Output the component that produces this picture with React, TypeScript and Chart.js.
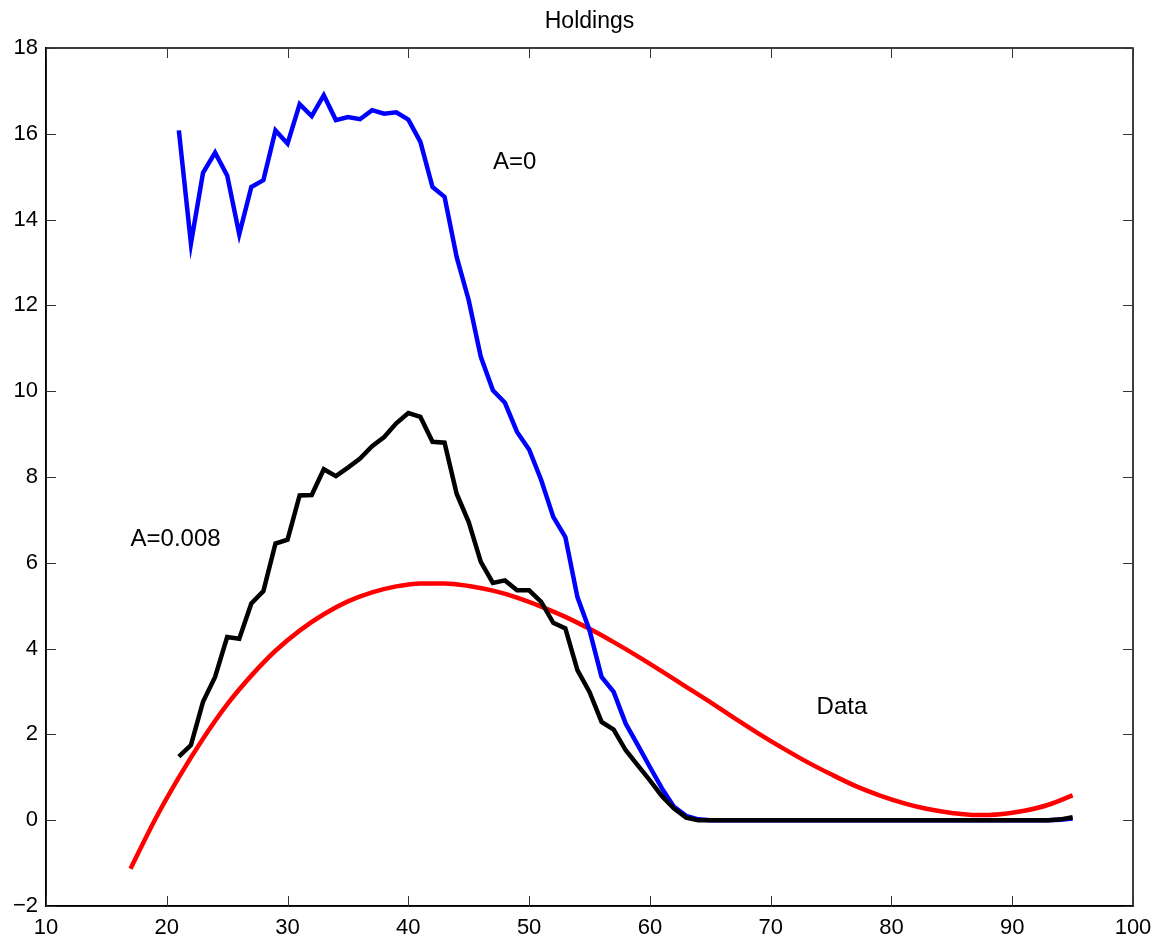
import React, { useEffect, useRef } from "react";
import { Chart, registerables } from "chart.js";

Chart.register(...registerables);

const ages = [21, 22, 23, 24, 25, 26, 27, 28, 29, 30, 31, 32, 33, 34, 35, 36, 37, 38, 39, 40,
  41, 42, 43, 44, 45, 46, 47, 48, 49, 50, 51, 52, 53, 54, 55, 56, 57, 58, 59, 60,
  61, 62, 63, 64, 65, 66, 67, 68, 69, 70, 71, 72, 73, 74, 75, 76, 77, 78, 79, 80,
  81, 82, 83, 84, 85, 86, 87, 88, 89, 90, 91, 92, 93, 94, 95];

const holdingsA0 = [16.08, 13.44, 15.09, 15.56, 15.03, 13.66, 14.76, 14.92, 16.08, 15.77,
  16.69, 16.41, 16.9, 16.32, 16.39, 16.34, 16.55, 16.47, 16.5, 16.33,
  15.81, 14.76, 14.53, 13.13, 12.12, 10.8, 10.02, 9.73, 9.05, 8.64,
  7.93, 7.07, 6.6, 5.2, 4.43, 3.34, 2.99, 2.25, 1.75, 1.24,
  0.74, 0.31, 0.1, 0.02, 0, 0, 0, 0, 0, 0,
  0, 0, 0, 0, 0, 0, 0, 0, 0, 0,
  0, 0, 0, 0, 0, 0, 0, 0, 0, 0,
  0, 0, 0, 0.01, 0.04];

const holdingsA008 = [1.48, 1.75, 2.76, 3.34, 4.27, 4.23, 5.05, 5.34, 6.45, 6.54,
  7.57, 7.58, 8.18, 8.02, 8.22, 8.43, 8.72, 8.93, 9.25, 9.49,
  9.4, 8.82, 8.8, 7.61, 6.95, 6.02, 5.53, 5.59, 5.36, 5.36,
  5.09, 4.6, 4.47, 3.5, 2.99, 2.29, 2.11, 1.63, 1.28, 0.93,
  0.56, 0.27, 0.06, 0, 0, 0, 0, 0, 0, 0,
  0, 0, 0, 0, 0, 0, 0, 0, 0, 0,
  0, 0, 0, 0, 0, 0, 0, 0, 0, 0,
  0, 0, 0, 0.02, 0.07];

const dataAges = [17, 19, 21, 23, 25, 27, 29, 31, 33, 35, 37, 39, 41, 43, 45, 47, 49, 51, 53, 55,
  57, 59, 61, 63, 65, 67, 69, 71, 73, 75, 77, 79, 81, 83, 85, 87, 89, 91, 93, 95];
const dataHoldings = [-1.13, 0.0, 1.0, 1.9, 2.7, 3.37, 3.95, 4.42, 4.8, 5.1, 5.31, 5.45, 5.52, 5.52,
  5.46, 5.35, 5.19, 4.98, 4.74, 4.46, 4.15, 3.82, 3.47, 3.11, 2.75, 2.38, 2.02, 1.68, 1.36, 1.07,
  0.8, 0.58, 0.4, 0.26, 0.17, 0.12, 0.14, 0.22, 0.36, 0.58];

const xTickValues = [10, 20, 30, 40, 50, 60, 70, 80, 90, 100];
const yTickValues = [-2, 0, 2, 4, 6, 8, 10, 12, 14, 16, 18];

const titleText = "Holdings";
const labelTexts = ["A=0", "A=0.008", "Data"];
const labelX = [47, 17, 73.8];
const labelY = [15.34, 6.55, 2.63];

const FONT = '"Liberation Sans", Arial, Helvetica, sans-serif';

const toPoints = (xs: number[], ys: number[]) => xs.map((x, i) => ({ x, y: ys[i] }));
const fmt = (v: number) => (v < 0 ? "\u2212" + Math.abs(v) : String(v));

const framePlugin = {
  id: "matlabFrame",
  afterDraw(chart: any) {
    const { ctx, chartArea, scales } = chart;
    const { left, right, top, bottom } = chartArea;
    const xs = scales.x;
    const ys = scales.y;
    ctx.save();
    ctx.strokeStyle = "#000";
    ctx.lineWidth = 1.5;
    ctx.beginPath();
    ctx.rect(left, top, right - left, bottom - top);
    ctx.stroke();
    ctx.strokeStyle = "#333";
    ctx.lineWidth = 1;
    const tl = 10;
    ctx.beginPath();
    xTickValues.forEach((v) => {
      const px = Math.round(xs.getPixelForValue(v)) + 0.5;
      ctx.moveTo(px, bottom);
      ctx.lineTo(px, bottom - tl);
      ctx.moveTo(px, top);
      ctx.lineTo(px, top + tl);
    });
    yTickValues.forEach((v) => {
      const py = Math.round(ys.getPixelForValue(v)) + 0.5;
      ctx.moveTo(left, py);
      ctx.lineTo(left + tl, py);
      ctx.moveTo(right, py);
      ctx.lineTo(right - tl, py);
    });
    ctx.stroke();
    ctx.fillStyle = "#000";
    ctx.font = `23px ${FONT}`;
    ctx.textAlign = "center";
    ctx.textBaseline = "middle";
    ctx.fillText(titleText, (left + right) / 2, 22);
    ctx.font = `24px ${FONT}`;
    ctx.textAlign = "left";
    labelTexts.forEach((t, i) => {
      ctx.fillText(t, xs.getPixelForValue(labelX[i]), ys.getPixelForValue(labelY[i]));
    });
    ctx.restore();
  },
};

export default function App() {
  const ref = useRef<HTMLCanvasElement | null>(null);
  useEffect(() => {
    if (!ref.current) return;
    const chart = new Chart(ref.current, {
      type: "line",
      data: {
        datasets: [
          {
            label: "A=0.008",
            data: toPoints(ages, holdingsA008),
            borderColor: "#000000",
            borderWidth: 4.5,
            pointRadius: 0,
            fill: false,
          },
          {
            label: "A=0",
            data: toPoints(ages, holdingsA0),
            borderColor: "#0000ff",
            borderWidth: 4.5,
            pointRadius: 0,
            fill: false,
          },
          {
            label: "Data",
            data: toPoints(dataAges, dataHoldings),
            borderColor: "#ff0000",
            borderWidth: 4.5,
            pointRadius: 0,
            fill: false,
            cubicInterpolationMode: "monotone",
          },
        ],
      },
      options: {
        animation: false,
        responsive: false,
        devicePixelRatio: 1,
        layout: { padding: { top: 48, right: 35, left: 0, bottom: 0 } },
        plugins: {
          legend: { display: false },
          title: { display: false },
          tooltip: { enabled: false },
        },
        scales: {
          x: {
            type: "linear",
            min: 10,
            max: 100,
            afterBuildTicks: (s: any) => {
              s.ticks = xTickValues.map((v) => ({ value: v }));
            },
            afterFit: (s: any) => {
              s.height = 38;
            },
            grid: { display: false, drawTicks: false },
            border: { display: true, color: "#000", width: 1.5 },
            ticks: {
              color: "#000",
              font: { family: FONT, size: 22 },
              padding: 9,
              maxRotation: 0,
              autoSkip: false,
              callback: (v: any) => fmt(Number(v)),
            },
          },
          y: {
            type: "linear",
            min: -2,
            max: 18,
            afterBuildTicks: (s: any) => {
              s.ticks = yTickValues.map((v) => ({ value: v }));
            },
            afterFit: (s: any) => {
              s.width = 46;
            },
            grid: { display: false, drawTicks: false },
            border: { display: true, color: "#000", width: 1.5 },
            ticks: {
              color: "#000",
              font: { family: FONT, size: 22 },
              padding: 8,
              autoSkip: false,
              callback: (v: any) => fmt(Number(v)),
            },
          },
        },
      },
      plugins: [framePlugin],
    } as any);
    return () => chart.destroy();
  }, []);
  return (
    <div style={{ position: "fixed", left: 0, top: 0, width: 1168, height: 944, background: "#fff" }}>
      <canvas ref={ref} width={1168} height={944} style={{ width: 1168, height: 944 }} />
    </div>
  );
}
